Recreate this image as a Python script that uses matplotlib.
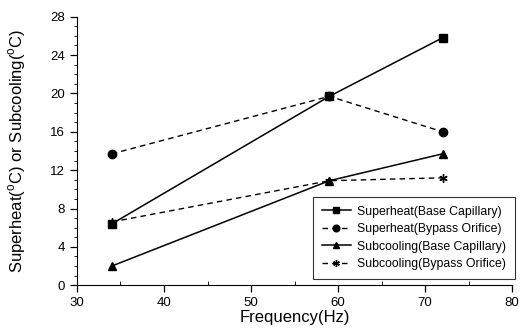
import matplotlib.pyplot as plt
from matplotlib.ticker import MultipleLocator

plt.rcParams['font.family'] = ['Liberation Sans', 'DejaVu Sans']
plt.rcParams['mathtext.fontset'] = 'custom'
plt.rcParams['mathtext.rm'] = 'Liberation Sans'

freq = [34, 59, 72]
sh_base = [6.4, 19.7, 25.8]
sh_bypass = [13.7, 19.7, 16.0]
sc_base = [2.0, 10.9, 13.7]
sc_bypass = [6.6, 10.9, 11.2]

fig = plt.figure(figsize=(5.2, 3.34), dpi=100)
ax = fig.add_axes([0.148, 0.146, 0.837, 0.804])

ax.plot(freq, sh_base, '-', color='black', lw=1.1, marker='s', ms=5.5, label='Superheat(Base Capillary)')
ax.plot(freq, sh_bypass, '--', color='black', lw=1.0, dashes=(4, 3), marker='o', ms=6, label='Superheat(Bypass Orifice)')
ax.plot(freq, sc_base, '-', color='black', lw=1.1, marker='^', ms=6, label='Subcooling(Base Capillary)')
ax.plot(freq, sc_bypass, '--', color='black', lw=1.0, dashes=(4, 3), marker=(6, 2, 0), ms=6, mew=1.0, label='Subcooling(Bypass Orifice)')

ax.set_xlim(30, 80)
ax.set_ylim(0, 28)
ax.xaxis.set_major_locator(MultipleLocator(10))
ax.xaxis.set_minor_locator(MultipleLocator(5))
ax.yaxis.set_major_locator(MultipleLocator(4))
ax.yaxis.set_minor_locator(MultipleLocator(1))
ax.tick_params(axis='both', which='major', labelsize=9.5, length=5, width=0.9, direction='out')
ax.tick_params(axis='x', which='minor', length=3, direction='in')
ax.tick_params(axis='y', which='minor', length=2.5, direction='out')

ax.spines['top'].set_visible(False)
ax.spines['right'].set_visible(False)

ax.set_xlabel('Frequency(Hz)', fontsize=12, labelpad=1)
ax.set_ylabel(r'Superheat($^\mathrm{o}$C) or Subcooling($^\mathrm{o}$C)', fontsize=12, labelpad=16)

leg = ax.legend(loc='lower right', bbox_to_anchor=(1.02, 0.002), fontsize=8.8, frameon=True,
                fancybox=False, edgecolor='black', handlelength=2.4, borderpad=0.7,
                labelspacing=0.45, markerscale=0.8, handletextpad=0.5)
leg.get_frame().set_linewidth(0.8)

fig.savefig('out.png', dpi=100)
